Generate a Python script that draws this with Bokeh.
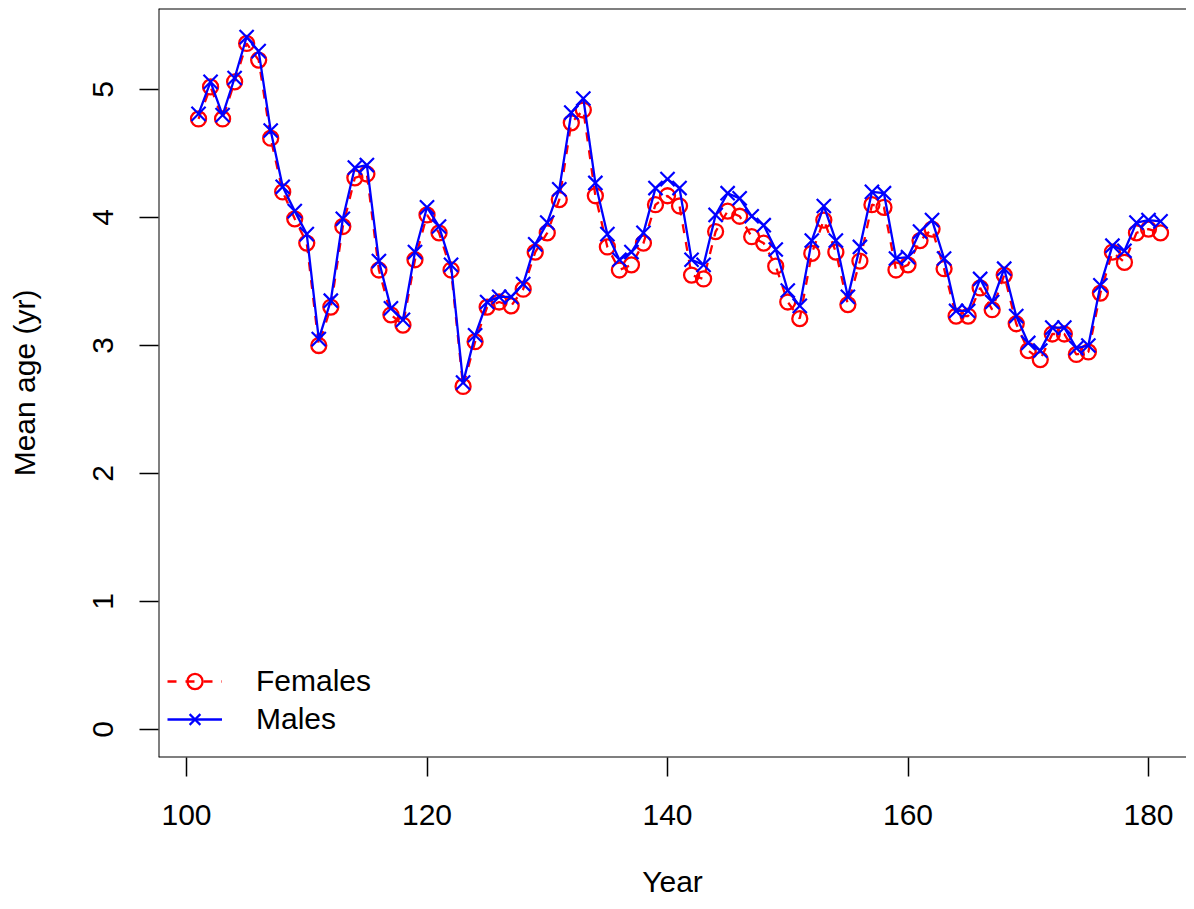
from bokeh.plotting import figure
from bokeh.models import Range1d, Span, Legend, LegendItem, FixedTicker
from bokeh.embed import file_html
from bokeh.resources import INLINE

years = list(range(101, 182))

females = [4.77, 5.02, 4.77, 5.06, 5.36, 5.23, 4.62, 4.20, 3.99, 3.80,
           3.00, 3.30, 3.93, 4.31, 4.34, 3.59, 3.24, 3.16, 3.67, 4.02,
           3.88, 3.59, 2.68, 3.03, 3.30, 3.34, 3.31, 3.44, 3.73, 3.88,
           4.14, 4.74, 4.84, 4.17, 3.77, 3.59, 3.63, 3.80, 4.10, 4.17,
           4.09, 3.55, 3.52, 3.89, 4.05, 4.01, 3.85, 3.80, 3.62, 3.34,
           3.21, 3.72, 3.98, 3.73, 3.32, 3.66, 4.10, 4.08, 3.59, 3.63,
           3.82, 3.91, 3.60, 3.23, 3.23, 3.45, 3.28, 3.55, 3.17, 2.96,
           2.89, 3.09, 3.09, 2.93, 2.95, 3.41, 3.73, 3.65, 3.88, 3.91,
           3.88]

males = [4.81, 5.06, 4.80, 5.09, 5.41, 5.30, 4.68, 4.24, 4.05, 3.87,
         3.05, 3.35, 3.99, 4.39, 4.41, 3.66, 3.29, 3.20, 3.73, 4.08,
         3.93, 3.63, 2.71, 3.08, 3.34, 3.38, 3.38, 3.48, 3.79, 3.96,
         4.22, 4.82, 4.93, 4.27, 3.87, 3.67, 3.73, 3.88, 4.23, 4.30,
         4.23, 3.67, 3.63, 4.02, 4.19, 4.15, 4.01, 3.94, 3.75, 3.43,
         3.31, 3.82, 4.09, 3.82, 3.38, 3.77, 4.20, 4.19, 3.68, 3.69,
         3.89, 3.98, 3.68, 3.27, 3.27, 3.52, 3.34, 3.60, 3.23, 3.02,
         2.96, 3.14, 3.14, 2.98, 3.00, 3.47, 3.78, 3.74, 3.96, 3.98,
         3.97]

x_ticks = [100, 120, 140, 160, 180]
y_ticks = [0, 1, 2, 3, 4, 5]

FONT = "Liberation Sans"
FS = "30px"

x0, x1 = 97.671, 183.16
y0, y1 = -0.21875, 5.633

p = figure(width=1186, height=901, output_backend="svg", toolbar_location=None,
           x_range=Range1d(x0, x1), y_range=Range1d(y0, y1),
           min_border_left=158, min_border_right=0, min_border_top=8,
           min_border_bottom=144)
p.outline_line_color = None
p.grid.visible = False
p.background_fill_color = "white"
p.border_fill_color = "white"

for ax in (p.xaxis[0], p.yaxis[0]):
    ax.axis_line_color = None
    ax.major_tick_in = 0
    ax.major_tick_out = 19
    ax.major_tick_line_width = 1.5
    ax.major_tick_line_color = "black"
    ax.minor_tick_line_color = None
    ax.major_label_text_font = FONT
    ax.major_label_text_font_size = FS
    ax.major_label_text_color = "black"
    ax.axis_label_text_font = FONT
    ax.axis_label_text_font_size = FS
    ax.axis_label_text_font_style = "normal"
    ax.axis_label_text_color = "black"

p.xaxis.ticker = FixedTicker(ticks=x_ticks)
p.yaxis.ticker = FixedTicker(ticks=y_ticks)
p.xaxis.axis_label = "Year"
p.yaxis.axis_label = "Mean age (yr)"
p.xaxis.major_label_standoff = 28
p.xaxis.axis_label_standoff = 37
p.yaxis.major_label_orientation = "vertical"
p.yaxis.major_label_standoff = 26
p.yaxis.axis_label_standoff = 50

# frame box (left, top, bottom; right edge lies beyond the picture)
for loc, dim in ((x0, "height"), (y1, "width"), (y0, "width")):
    p.add_layout(Span(location=loc, dimension=dim, line_color="black", line_width=2))

lf = p.line(years, females, line_color="#FF0000", line_width=2.3, line_dash="9 9")
sf = p.scatter(years, females, marker="circle", size=15, fill_color=None,
               line_color="#FF0000", line_width=2.3)
lm = p.line(years, males, line_color="#0000FF", line_width=2.3)
sm = p.scatter(years, males, marker="x", size=20, line_color="#0000FF", line_width=2.2)

legend = Legend(items=[LegendItem(label="Females", renderers=[lf, sf]),
                       LegendItem(label="Males", renderers=[lm, sm])],
                location=(9, 19), padding=0, margin=0, spacing=0,
                glyph_width=55, glyph_height=38, label_height=38,
                label_standoff=34, border_line_color=None,
                background_fill_alpha=0, label_text_color="black",
                label_text_font=FONT, label_text_font_size=FS)
p.add_layout(legend)

open("out.html", "w").write(file_html(p, INLINE))
